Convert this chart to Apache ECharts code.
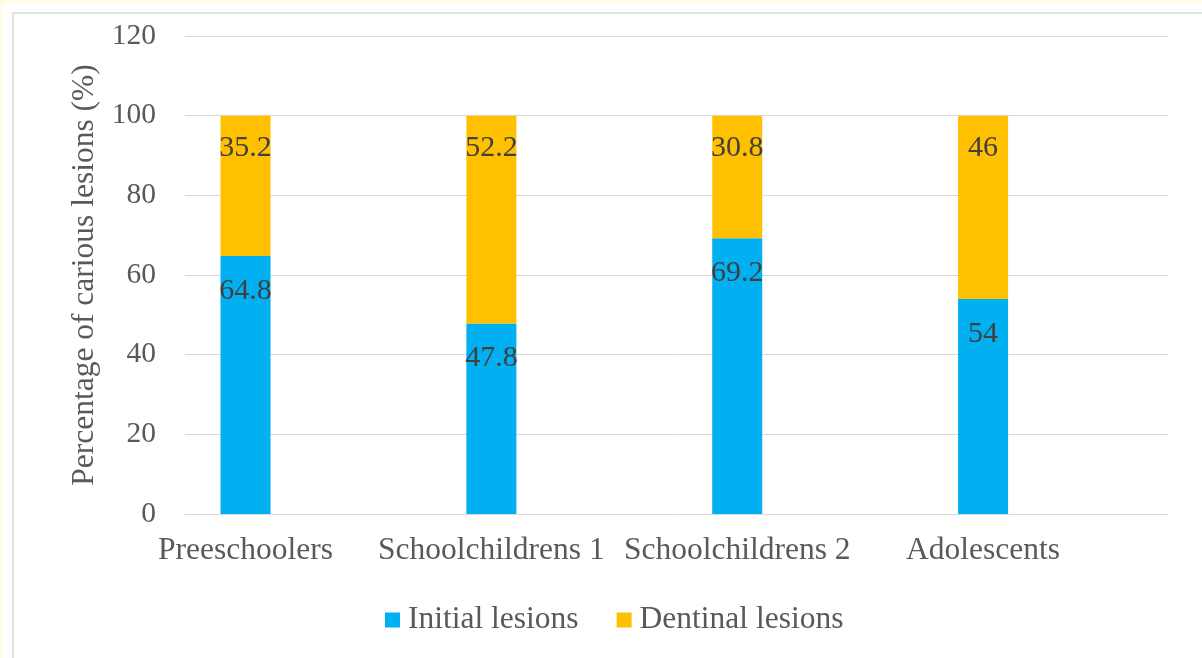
<!DOCTYPE html>
<html>
<head>
<meta charset="utf-8">
<script src="https://cdn.jsdelivr.net/npm/echarts@6/dist/echarts.min.js"></script>
<style>
  html, body { margin: 0; padding: 0; width: 1202px; height: 658px; overflow: hidden; background: #fff; }
  #top { position: absolute; left: 0; top: 0; width: 1202px; height: 4px; background: #fffbe6; }
  #leftStrip { position: absolute; left: 0; top: 0; width: 2px; height: 658px; background: #fffbe6; }
  #frame { position: absolute; left: 12px; top: 12px; width: 1300px; height: 800px; border: 2px solid #e3e3e3; background: #fff; }
  #chart { position: absolute; left: 0; top: 0; width: 1202px; height: 658px; }
</style>
</head>
<body>
<div id="top"></div>
<div id="leftStrip"></div>
<div id="frame"></div>
<div id="chart"></div>
<script>
// values
const groups = ['Preeschoolers', 'Schoolchildrens 1', 'Schoolchildrens 2', 'Adolescents'];
const initialLesions = [64.8, 47.8, 69.2, 54];
const dentinalLesions = [35.2, 52.2, 30.8, 46];
const yTicks = [0, 20, 40, 60, 80, 100, 120];

const serif = '"Liberation Serif", "Times New Roman", serif';
const textGray = '#595959';

let myChart = echarts.init(document.getElementById('chart'));
let option = {
  backgroundColor: 'transparent',
  animation: false,
  legend: {
    bottom: 17,
    left: 380,
    icon: 'rect',
    itemWidth: 15,
    itemHeight: 15,
    itemGap: 38,
    textStyle: { fontFamily: serif, fontSize: 31.5, color: textGray, padding: [0, 0, 0, 3] },
    data: ['Initial lesions', 'Dentinal lesions']
  },
  grid: [
    // gridlines + y axis
    { left: 185, right: 34, top: 36, bottom: 144 },
    // bars
    { left: 122.6, right: 96, top: 36, bottom: 144 }
  ],
  xAxis: [
    {
      gridIndex: 0, type: 'category', data: groups,
      axisLine: { show: true, lineStyle: { color: '#d9d9d9', width: 1 } },
      axisTick: { show: false }, axisLabel: { show: false }
    },
    {
      gridIndex: 1, type: 'category', data: groups,
      axisLine: { show: false }, axisTick: { show: false },
      axisLabel: { interval: 0, fontFamily: serif, fontSize: 31.5, color: textGray, margin: 21 }
    }
  ],
  yAxis: [
    {
      gridIndex: 0, type: 'value', min: yTicks[0], max: yTicks[yTicks.length - 1], interval: 20,
      name: 'Percentage of carious lesions (%)',
      nameLocation: 'middle', nameGap: 82,
      nameTextStyle: { fontFamily: serif, fontSize: 31.5, color: textGray },
      axisLine: { show: false }, axisTick: { show: false },
      axisLabel: { fontFamily: serif, fontSize: 29.5, color: textGray, margin: 29 },
      splitLine: { lineStyle: { color: '#d9d9d9', width: 1 } }
    },
    {
      gridIndex: 1, type: 'value', min: 0, max: 120, interval: 20, show: false,
      splitLine: { show: false }
    }
  ],
  series: [
    {
      name: 'Initial lesions', type: 'bar', stack: 'total',
      xAxisIndex: 1, yAxisIndex: 1,
      data: initialLesions, barWidth: 50,
      itemStyle: { color: '#00b0f0' },
      label: { show: true, position: 'insideTop', distance: 20, fontFamily: serif, fontSize: 30, color: '#404040' }
    },
    {
      name: 'Dentinal lesions', type: 'bar', stack: 'total',
      xAxisIndex: 1, yAxisIndex: 1,
      data: dentinalLesions, barWidth: 50,
      itemStyle: { color: '#ffc000' },
      label: { show: true, position: 'insideTop', distance: 17, fontFamily: serif, fontSize: 30, color: '#404040' }
    }
  ]
};
myChart.setOption(option);
</script>
</body>
</html>
